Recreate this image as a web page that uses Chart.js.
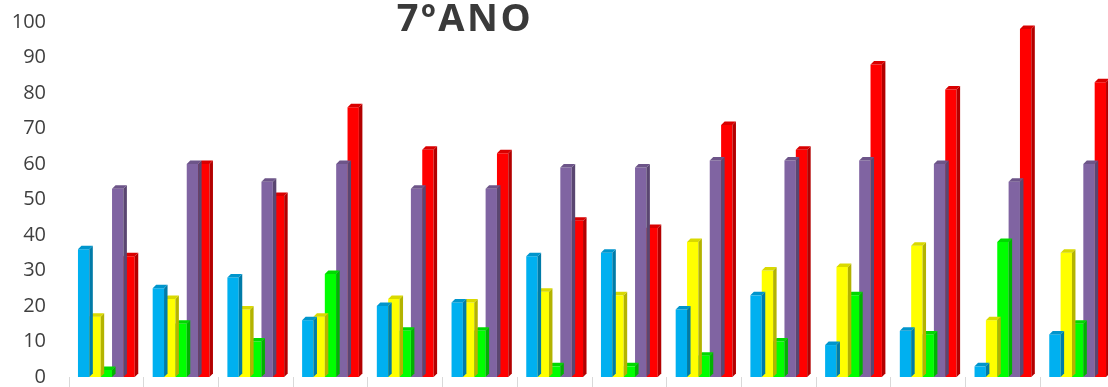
<!DOCTYPE html>
<html lang="pt">
<head>
<meta charset="utf-8">
<title>7ºANO</title>
<script src="https://cdn.jsdelivr.net/npm/chart.js@4.4.1/dist/chart.umd.min.js"></script>
<style>
    html, body { margin: 0; padding: 0; background: #fff; overflow: hidden; }
    #wrap { position: relative; width: 1130px; height: 387px; }
    #title {
        position: absolute; left: 0; top: -3px; width: 930px;
        text-align: center; font-family: "Open Sans", sans-serif;
        font-weight: bold; font-size: 38px; line-height: 38px; color: #3a3a3a;
        letter-spacing: 2.5px;
    }
</style>
</head>
<body>
<div id="wrap">
    <canvas id="anoChart"></canvas>
    <div id="title">7ºANO</div>
</div>
<script>
// data (14 groups, the last one is cut at the right edge)
const categories = ['1', '2', '3', '4', '5', '6', '7', '8', '9', '10', '11', '12', '13', '14'];
const serie1 = [36, 25, 28, 16, 20, 21, 34, 35, 19, 23, 9, 13, 3, 12];
const serie2 = [17, 22, 19, 17, 22, 21, 24, 23, 38, 30, 31, 37, 16, 35];
const serie3 = [2, 15, 10, 29, 13, 13, 3, 3, 6, 10, 23, 12, 38, 15];
const serie4 = [53, 60, 55, 60, 53, 53, 59, 59, 61, 61, 61, 60, 55, 60];
const serie5 = [34, 60, 51, 76, 64, 63, 44, 42, 71, 64, 88, 81, 98, 83];
const yTicks = [0, 10, 20, 30, 40, 50, 60, 70, 80, 90, 100];

// fake 3D: side and top face drawn after each dataset, so the next bar covers the side
const bar3d = {
    id: 'bar3d',
    afterDatasetDraw(chart, args) {
        const ctx = chart.ctx;
        const ds = chart.data.datasets[args.index];
        const d = 3.5;
        ctx.save();
        args.meta.data.forEach(function(bar) {
            const p = bar.getProps(['x', 'y', 'base', 'width'], true);
            const l = p.x - p.width / 2, r = p.x + p.width / 2;
            ctx.fillStyle = ds.sideColor;
            ctx.beginPath();
            ctx.moveTo(r, p.y);
            ctx.lineTo(r + d, p.y - d);
            ctx.lineTo(r + d, p.base - d);
            ctx.lineTo(r, p.base);
            ctx.closePath();
            ctx.fill();
            ctx.fillStyle = ds.topColor;
            ctx.beginPath();
            ctx.moveTo(l, p.y);
            ctx.lineTo(l + d, p.y - d);
            ctx.lineTo(r + d, p.y - d);
            ctx.lineTo(r, p.y);
            ctx.closePath();
            ctx.fill();
        });
        ctx.restore();
    }
};

function serie(label, data, color, side, top) {
    return { label: label, data: data, backgroundColor: color, sideColor: side, topColor: top, borderWidth: 0 };
}

const ctx = document.getElementById('anoChart').getContext('2d');
const anoChart = new Chart(ctx, {
    type: 'bar',
    data: {
        labels: categories,
        datasets: [
            serie('Série 1', serie1, '#00B0F0', '#007BA8', '#0095CC'),
            serie('Série 2', serie2, '#FFFF00', '#B3B300', '#D9D900'),
            serie('Série 3', serie3, '#00FF00', '#00B300', '#00D900'),
            serie('Série 4', serie4, '#8064A2', '#5A4671', '#6D5589'),
            serie('Série 5', serie5, '#FF0000', '#B30000', '#D90000')
        ]
    },
    options: {
        responsive: true,
        maintainAspectRatio: false,
        animation: false,
        layout: { padding: { top: 22, right: 15, left: 0, bottom: 0 } },
        datasets: { bar: { barPercentage: 1, categoryPercentage: 0.76 } },
        plugins: {
            legend: { display: false },
            tooltip: { enabled: false }
        },
        scales: {
            x: {
                grid: { display: true, drawOnChartArea: false, drawTicks: true, tickLength: 10, color: '#d9d9d9', offset: true },
                border: { display: false },
                ticks: { display: false },
                afterFit: function(scale) {
                    scale.height = 10;
                    scale.paddingLeft = 0;
                    scale.paddingRight = 0;
                }
            },
            y: {
                min: 0,
                max: 100,
                afterBuildTicks: function(scale) { scale.ticks = yTicks.map(v => ({ value: v })); },
                grid: { display: false, drawTicks: false },
                border: { display: false },
                ticks: {
                    padding: 23,
                    color: '#3f3f3f',
                    font: { family: '"Open Sans", sans-serif', size: 20 }
                },
                afterFit: function(scale) {
                    scale.width = 69;
                    scale.paddingTop = 0;
                    scale.paddingBottom = 0;
                }
            }
        }
    },
    plugins: [bar3d]
});
</script>
</body>
</html>
